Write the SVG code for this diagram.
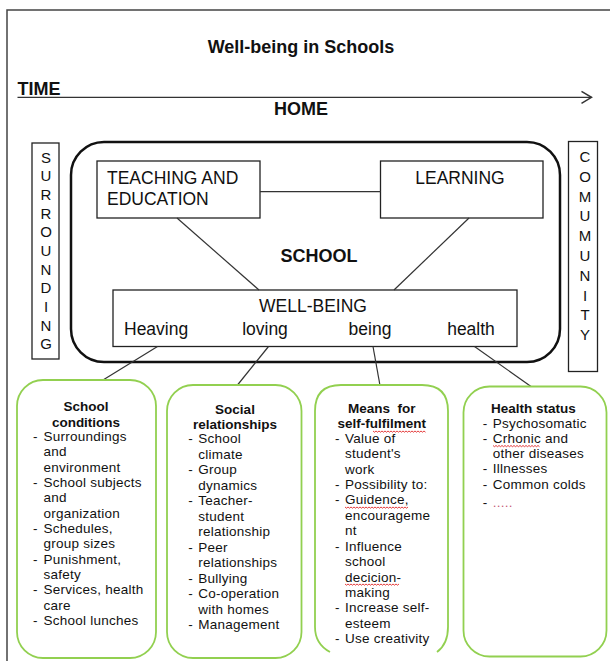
<svg xmlns="http://www.w3.org/2000/svg" width="610" height="661" viewBox="0 0 610 661">
  <style>
    text { font-family: "Liberation Sans", Arial, sans-serif; fill: #111; }
    .head { font-size: 18px; font-weight: bold; }
    .lbl { font-size: 17.5px; }
    .vert { font-size: 15px; text-anchor: middle; }
    .btitle { font-size: 13.5px; font-weight: bold; text-anchor: middle; }
    .item { font-size: 13.5px; letter-spacing: 0.25px; }
    .frame { fill: none; stroke: #444; stroke-width: 1.5; }
    .box { fill: #fff; stroke: #222; stroke-width: 1.3; }
    .green { fill: #fff; stroke: #92d050; stroke-width: 1.8; }
    .wire { fill: none; stroke: #333; stroke-width: 1.2; }
    .squig { fill: none; stroke: #e02828; stroke-width: 0.9; }
  </style>
  <defs>
    <marker id="chevron" viewBox="0 0 12 14" refX="11" refY="7" markerWidth="12" markerHeight="14" markerUnits="userSpaceOnUse" orient="auto">
      <path d="M1,1 L11,7 L1,13" fill="none" stroke="#333" stroke-width="1.5"/>
    </marker>
  </defs>

  <rect width="610" height="661" fill="#fff"/>
  <!-- page frame, open to the right and bottom -->
  <rect class="frame" x="7" y="10" width="640" height="700"/>

  <g id="title">
    <text class="head" x="301" y="52.5" text-anchor="middle">Well-being in Schools</text>
  </g>
  <g id="time">
    <text class="head" x="17.5" y="95">TIME</text>
  </g>
  <g id="home">
    <text class="head" x="301" y="115" text-anchor="middle" font-size="17px">HOME</text>
  </g>

  <g id="surrounding">
    <rect class="box" x="32" y="143" width="27" height="216"/>
    <text class="vert" x="46" y="162.5">S</text>
    <text class="vert" x="46" y="181.2">U</text>
    <text class="vert" x="46" y="199.8">R</text>
    <text class="vert" x="46" y="218.5">R</text>
    <text class="vert" x="46" y="237.2">O</text>
    <text class="vert" x="46" y="255.8">U</text>
    <text class="vert" x="46" y="274.5">N</text>
    <text class="vert" x="46" y="293.2">D</text>
    <text class="vert" x="46" y="311.8">I</text>
    <text class="vert" x="46" y="330.5">N</text>
    <text class="vert" x="46" y="349.2">G</text>
  </g>

  <g id="community">
    <rect class="box" x="568.5" y="141.5" width="29" height="230"/>
    <text class="vert" x="585" y="162">C</text>
    <text class="vert" x="585" y="181.8">O</text>
    <text class="vert" x="585" y="201.6">M</text>
    <text class="vert" x="585" y="221.4">U</text>
    <text class="vert" x="585" y="241.2">M</text>
    <text class="vert" x="585" y="261">U</text>
    <text class="vert" x="585" y="280.8">N</text>
    <text class="vert" x="585" y="300.6">I</text>
    <text class="vert" x="585" y="320.4">T</text>
    <text class="vert" x="585" y="340.2">Y</text>
  </g>

  <g id="school">
    <rect x="71" y="142" width="489" height="220" rx="33" fill="none" stroke="#111" stroke-width="2.5"/>
    <text class="head" x="319" y="261.5" text-anchor="middle" font-size="17px">SCHOOL</text>
  </g>

  <g id="teaching">
    <rect class="box" x="97" y="161" width="163" height="57"/>
    <text class="lbl" x="107" y="183.5">TEACHING AND</text>
    <text class="lbl" x="107" y="205">EDUCATION</text>
  </g>

  <g id="learning">
    <rect class="box" x="380.5" y="161" width="162.5" height="57"/>
    <text class="lbl" x="460" y="183.5" text-anchor="middle">LEARNING</text>
  </g>

  <g id="wellbeing">
    <rect class="box" x="113" y="290" width="404" height="56.5"/>
    <text class="lbl" x="313" y="311.5" text-anchor="middle">WELL-BEING</text>
    <text class="lbl" x="124" y="335">Heaving</text>
    <text class="lbl" x="265" y="335" text-anchor="middle">loving</text>
    <text class="lbl" x="370" y="335" text-anchor="middle">being</text>
    <text class="lbl" x="471" y="335" text-anchor="middle">health</text>
  </g>

  <g id="connectors">
    <line class="wire" x1="17.5" y1="97.3" x2="591.5" y2="97.3" marker-end="url(#chevron)" stroke-width="1.5"/>
    <line class="wire" x1="260" y1="191.7" x2="380.5" y2="191.7"/>
    <line class="wire" x1="177" y1="218" x2="259" y2="290"/>
    <line class="wire" x1="469" y1="218" x2="394" y2="290"/>
    <line class="wire" x1="157.5" y1="346.5" x2="103" y2="380"/>
    <line class="wire" x1="268.5" y1="346.5" x2="237.5" y2="385"/>
    <line class="wire" x1="373" y1="346.5" x2="380" y2="385.5"/>
    <line class="wire" x1="474.5" y1="346.5" x2="531" y2="386.5"/>
  </g>

  <g id="school-conditions">
    <rect class="green" x="17" y="380" width="139" height="278" rx="26"/>
    <text class="btitle" x="86" y="410.7">School</text>
    <text class="btitle" x="86" y="426.7">conditions</text>
    <g class="item">
      <text x="33" y="441">-</text><text x="43.5" y="441">Surroundings</text>
      <text x="43.5" y="456.3">and</text>
      <text x="43.5" y="471.7">environment</text>
      <text x="33" y="487">-</text><text x="43.5" y="487">School subjects</text>
      <text x="43.5" y="502.3">and</text>
      <text x="43.5" y="517.7">organization</text>
      <text x="33" y="533">-</text><text x="43.5" y="533">Schedules,</text>
      <text x="43.5" y="548.3">group sizes</text>
      <text x="33" y="563.7">-</text><text x="43.5" y="563.7">Punishment,</text>
      <text x="43.5" y="579">safety</text>
      <text x="33" y="594.3">-</text><text x="43.5" y="594.3">Services, health</text>
      <text x="43.5" y="609.7">care</text>
      <text x="33" y="625">-</text><text x="43.5" y="625">School lunches</text>
    </g>
  </g>

  <g id="social-relationships">
    <rect class="green" x="167" y="385" width="134.5" height="273" rx="26"/>
    <text class="btitle" x="235" y="414.3">Social</text>
    <text class="btitle" x="235" y="429.3">relationships</text>
    <g class="item">
      <text x="188.3" y="443.3">-</text><text x="198.3" y="443.3">School</text>
      <text x="198.3" y="458.8">climate</text>
      <text x="188.3" y="474.3">-</text><text x="198.3" y="474.3">Group</text>
      <text x="198.3" y="489.8">dynamics</text>
      <text x="188.3" y="505.3">-</text><text x="198.3" y="505.3">Teacher-</text>
      <text x="198.3" y="520.8">student</text>
      <text x="198.3" y="536.3">relationship</text>
      <text x="188.3" y="551.8">-</text><text x="198.3" y="551.8">Peer</text>
      <text x="198.3" y="567.3">relationships</text>
      <text x="188.3" y="582.8">-</text><text x="198.3" y="582.8">Bullying</text>
      <text x="188.3" y="598.3">-</text><text x="198.3" y="598.3">Co-operation</text>
      <text x="198.3" y="613.8">with homes</text>
      <text x="188.3" y="629.3">-</text><text x="198.3" y="629.3">Management</text>
    </g>
  </g>

  <g id="self-fulfilment">
    <!-- bottom edge hidden behind the text area -->
    <path class="green" d="M330,652 Q315,644 315,627 V411 Q315,385 341,385 H422 Q448,385 448,411 V627 Q448,644 437,652"/>
    <text class="btitle" x="381.7" y="412.7" xml:space="preserve">Means  for</text>
    <text class="btitle" x="381.7" y="428.3">self-fulfilment</text>
    <path class="squig" d="M373,431 l1.5,1.2 l1.5,-1.2 l1.5,1.2 l1.5,-1.2 l1.5,1.2 l1.5,-1.2 l1.5,1.2 l1.5,-1.2 l1.5,1.2 l1.5,-1.2 l1.5,1.2 l1.5,-1.2 l1.5,1.2 l1.5,-1.2 l1.5,1.2 l1.5,-1.2 l1.5,1.2 l1.5,-1.2 l1.5,1.2 l1.5,-1.2 l1.5,1.2 l1.5,-1.2 l1.5,1.2 l1.5,-1.2 l1.5,1.2 l1.5,-1.2 l1.5,1.2 l1.5,-1.2 l1.5,1.2 l1.5,-1.2 l1.5,1.2 l1.5,-1.2 l1.5,1.2 l1.5,-1.2 l1.5,1.2"/>
    <g class="item">
      <text x="335" y="442.7">-</text><text x="345" y="442.7">Value of</text>
      <text x="345" y="458.1">student's</text>
      <text x="345" y="473.5">work</text>
      <text x="335" y="489">-</text><text x="345" y="489">Possibility to:</text>
      <text x="335" y="504.4">-</text><text x="345" y="504.4">Guidence,</text>
      <text x="345" y="519.8">encourageme</text>
      <text x="345" y="535.2">nt</text>
      <text x="335" y="550.7">-</text><text x="345" y="550.7">Influence</text>
      <text x="345" y="566.1">school</text>
      <text x="345" y="581.5">decicion-</text>
      <text x="345" y="597">making</text>
      <text x="335" y="612.4">-</text><text x="345" y="612.4">Increase self-</text>
      <text x="345" y="627.8">esteem</text>
      <text x="335" y="643.3">-</text><text x="345" y="643.3">Use creativity</text>
    </g>
    <path class="squig" d="M345,507 l1.5,1.2 l1.5,-1.2 l1.5,1.2 l1.5,-1.2 l1.5,1.2 l1.5,-1.2 l1.5,1.2 l1.5,-1.2 l1.5,1.2 l1.5,-1.2 l1.5,1.2 l1.5,-1.2 l1.5,1.2 l1.5,-1.2 l1.5,1.2 l1.5,-1.2 l1.5,1.2 l1.5,-1.2 l1.5,1.2 l1.5,-1.2 l1.5,1.2 l1.5,-1.2 l1.5,1.2 l1.5,-1.2 l1.5,1.2 l1.5,-1.2 l1.5,1.2 l1.5,-1.2 l1.5,1.2 l1.5,-1.2 l1.5,1.2 l1.5,-1.2 l1.5,1.2 l1.5,-1.2 l1.5,1.2 l1.5,-1.2 l1.5,1.2 l1.5,-1.2 l1.5,1.2 l1.5,-1.2 l1.5,1.2 l1.5,-1.2"/>
    <path class="squig" d="M345,584 l1.5,1.2 l1.5,-1.2 l1.5,1.2 l1.5,-1.2 l1.5,1.2 l1.5,-1.2 l1.5,1.2 l1.5,-1.2 l1.5,1.2 l1.5,-1.2 l1.5,1.2 l1.5,-1.2 l1.5,1.2 l1.5,-1.2 l1.5,1.2 l1.5,-1.2 l1.5,1.2 l1.5,-1.2 l1.5,1.2 l1.5,-1.2 l1.5,1.2 l1.5,-1.2 l1.5,1.2 l1.5,-1.2 l1.5,1.2 l1.5,-1.2 l1.5,1.2 l1.5,-1.2 l1.5,1.2 l1.5,-1.2 l1.5,1.2 l1.5,-1.2 l1.5,1.2 l1.5,-1.2 l1.5,1.2 l1.5,-1.2"/>
  </g>

  <g id="health-status">
    <rect class="green" x="463.5" y="386.5" width="143" height="270" rx="26"/>
    <text class="btitle" x="533.3" y="413.3">Health status</text>
    <g class="item">
      <text x="482.7" y="427.5">-</text><text x="492.7" y="427.5">Psychosomatic</text>
      <text x="482.7" y="442.7">-</text><text x="492.7" y="442.7">Crhonic and</text>
      <text x="492.7" y="458">other diseases</text>
      <text x="482.7" y="473.3">-</text><text x="492.7" y="473.3">Illnesses</text>
      <text x="482.7" y="488.5">-</text><text x="492.7" y="488.5">Common colds</text>
      <text x="482.7" y="507">-</text><text x="492.7" y="507" style="fill:#c8607a">.....</text>
    </g>
    <path class="squig" d="M493,445.5 l1.5,1.2 l1.5,-1.2 l1.5,1.2 l1.5,-1.2 l1.5,1.2 l1.5,-1.2 l1.5,1.2 l1.5,-1.2 l1.5,1.2 l1.5,-1.2 l1.5,1.2 l1.5,-1.2 l1.5,1.2 l1.5,-1.2 l1.5,1.2 l1.5,-1.2 l1.5,1.2 l1.5,-1.2 l1.5,1.2 l1.5,-1.2 l1.5,1.2 l1.5,-1.2 l1.5,1.2 l1.5,-1.2 l1.5,1.2 l1.5,-1.2 l1.5,1.2 l1.5,-1.2 l1.5,1.2 l1.5,-1.2 l1.5,1.2"/>
  </g>
</svg>
